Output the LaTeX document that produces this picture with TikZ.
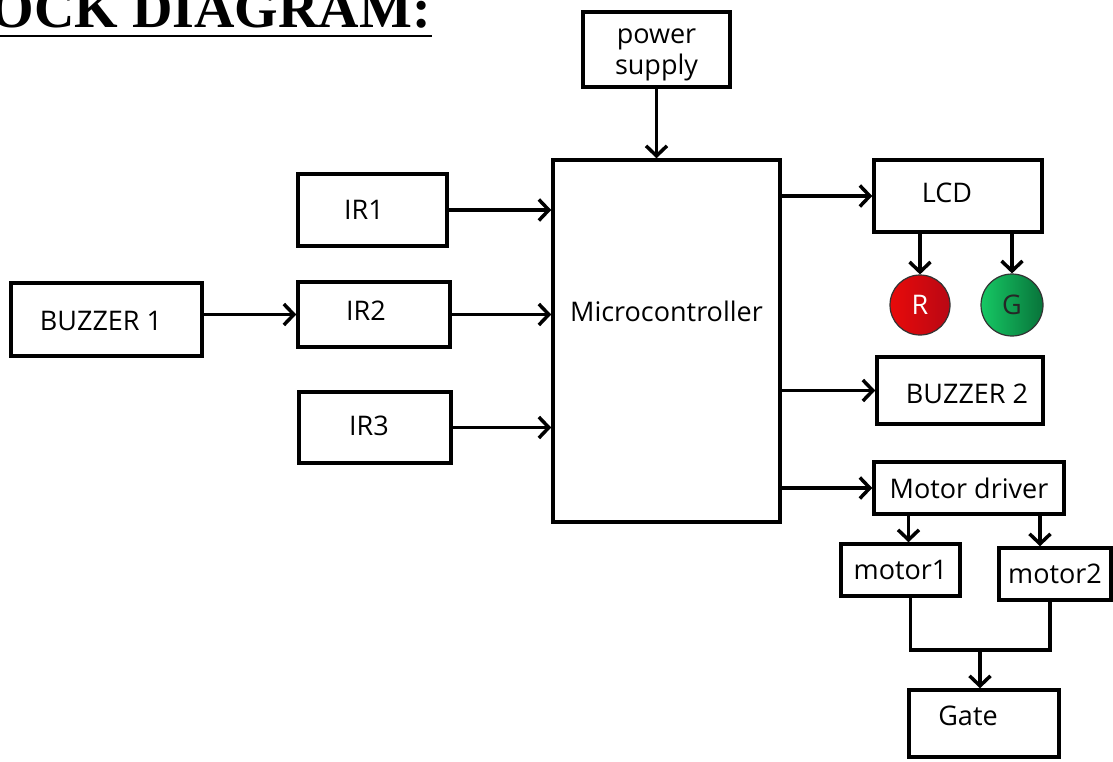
\documentclass[tikz,border=0pt]{standalone}
\usepackage{fontspec}
\setmainfont{Open Sans}
\newfontfamily\titlefont{Liberation Serif}
\usetikzlibrary{arrows.meta}
\definecolor{rleft}{RGB}{232,10,10}
\definecolor{rright}{RGB}{185,8,20}
\definecolor{gleft}{RGB}{22,200,100}
\definecolor{gright}{RGB}{8,115,58}
\tikzset{
  lbl/.style={font=\fontsize{27}{31}\selectfont},
  box/.style={draw, line width=3.5pt, rectangle, inner sep=0pt, lbl},
  lamp/.style={circle, draw=black!80, line width=1.2pt, minimum size=60pt, inner sep=0pt, lbl},
  wire/.style={line width=3.5pt},
  arr/.style={line width=3.5pt, -{Straight Barb[length=10pt,width=21pt]}},
}
\begin{document}
\begin{tikzpicture}[x=1pt,y=-1pt]
\useasboundingbox (0,0) rectangle (1113,761);
\clip (0,0) rectangle (1113,761);
% title
\node[anchor=base east, inner sep=0pt, font=\titlefont\bfseries\fontsize{56}{56}\selectfont] (title) at (431,27) {OCK DIAGRAM:};
\draw[line width=2.5pt] (0,36) -- (432,36);
% boxes
\node[box, minimum width=147pt, minimum height=75pt, label={[yshift=-5pt, align=center, lbl]center:power\\supply}] (ps) at (656.5,49.5) {};
\node[box, minimum width=227pt, minimum height=362pt, label={[yshift=30pt, lbl]center:Microcontroller}] (mc) at (666.5,341) {};
\node[box, minimum width=149pt, minimum height=72pt, label={[xshift=-8.5pt, lbl]center:IR1}] (ir1) at (372.5,210) {};
\node[box, minimum width=152pt, minimum height=65pt, label={[xshift=-8pt, yshift=3.5pt, lbl]center:IR2}] (ir2) at (374,314.5) {};
\node[box, minimum width=152pt, minimum height=71pt, label={[xshift=-6pt, yshift=1.5pt, lbl]center:IR3}] (ir3) at (375,427.5) {};
\node[box, minimum width=191pt, minimum height=73pt, label={[xshift=-5.5pt, yshift=-1.5pt, lbl]center:BUZZER 1}] (b1) at (106.5,319.5) {};
\node[box, minimum width=168pt, minimum height=72pt, label={[xshift=-11pt, yshift=3pt, lbl]center:LCD}] (lcd) at (958,196) {};
\node[lamp, left color=rleft, right color=rright, text=white] (r) at (920,305) {R};
\node[lamp, minimum size=62pt, left color=gleft, right color=gright, text=black!85] (g) at (1012,305) {G};
\node[box, minimum width=166pt, minimum height=67pt, label={[xshift=7pt, yshift=-3.5pt, lbl]center:BUZZER 2}] (b2) at (960,390.5) {};
\node[box, minimum width=190pt, minimum height=52pt] (md) at (969,488) {Motor driver};
\node[box, minimum width=119pt, minimum height=52pt] (m1) at (900.5,570) {motor1};
\node[box, minimum width=112pt, minimum height=52pt] (m2) at (1055,574) {motor2};
\node[box, minimum width=150pt, minimum height=67pt, label={[xshift=-16pt, yshift=7.5pt, lbl]center:Gate}] (gate) at (984,723.5) {};
% connectors
\draw[arr] (ps.south) -- (ps.south |- mc.north);
\draw[arr] (ir1.east) -- (ir1.east -| mc.west);
\draw[arr] (ir2.east) -- (ir2.east -| mc.west);
\draw[arr] (ir3.east) -- (ir3.east -| mc.west);
\draw[arr] (b1.east |- ir2.west) -- (ir2.west);
\draw[arr] (mc.east |- lcd.west) -- (lcd.west);
\draw[arr] (mc.east |- b2.west) -- (b2.west);
\draw[arr] (mc.east |- md.west) -- (md.west);
\draw[arr] (r.north |- lcd.south) -- (r.north);
\draw[arr] (g.north |- lcd.south) -- (g.north);
\draw[arr] ([xshift=8pt]m1.north |- md.south) -- ([xshift=8pt]m1.north);
\draw[arr] ([xshift=-15pt]m2.north |- md.south) -- ([xshift=-15pt]m2.north);
\coordinate (j) at (980,650);
\draw[wire] ([xshift=10pt]m1.south) |- (j) -| ([xshift=-5pt]m2.south);
\draw[arr] (j) -- (j |- gate.north);
\end{tikzpicture}
\end{document}
